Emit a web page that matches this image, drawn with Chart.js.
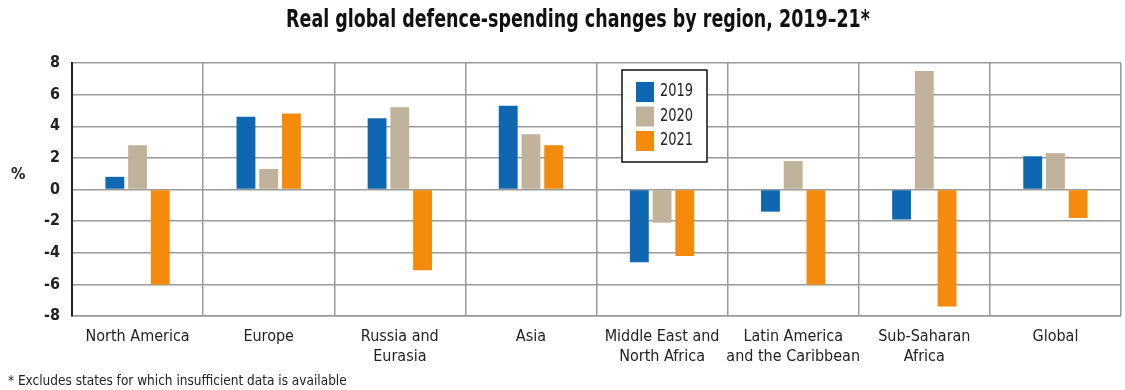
<!DOCTYPE html>
<html>
<head>
<meta charset="utf-8">
<script src="https://cdn.jsdelivr.net/npm/chart.js@4"></script>
<style>
  html, body { margin: 0; padding: 0; background: #fff; }
  #wrap { width: 1125px; height: 390px; }
</style>
</head>
<body>
<div id="wrap"><canvas id="spendChart" width="1125" height="390"></canvas></div>
<script>
// regions along the x axis (multi-line labels as arrays)
const regions = [
    'North America',
    'Europe',
    ['Russia and', 'Eurasia'],
    'Asia',
    ['Middle East and', 'North Africa'],
    ['Latin America', 'and the Caribbean'],
    ['Sub-Saharan', 'Africa'],
    'Global'
];

// real change in defence spending, %
const years = ['2019', '2020', '2021'];
const values2019 = [0.8, 4.6, 4.5, 5.3, -4.6, -1.4, -1.9, 2.1];
const values2020 = [2.8, 1.3, 5.2, 3.5, -2.1, 1.8, 7.5, 2.3];
const values2021 = [-6.0, 4.8, -5.1, 2.8, -4.2, -6.0, -7.4, -1.8];
const yTicks = [-8, -6, -4, -2, 0, 2, 4, 6, 8];

const colors = ['#0f67b1', '#c0b29b', '#f58b0c'];
const FONT = '"DejaVu Sans Condensed", "Liberation Sans Narrow", sans-serif';

// text squeezed horizontally to get a narrow-face look
function narrowText(ctx, text, x, y, sx, align) {
    ctx.save();
    ctx.translate(x, y);
    ctx.scale(sx, 1);
    ctx.textAlign = align;
    ctx.fillText(text, 0, 0);
    ctx.restore();
}

// title, "%" label, boxed legend and footnote
const extras = {
    id: 'extras',
    afterDraw(chart) {
        const ctx = chart.ctx;
        const y = chart.scales.y;
        ctx.save();
        ctx.textBaseline = 'middle';

        // title
        ctx.fillStyle = '#111';
        ctx.font = 'bold 24px ' + FONT;
        narrowText(ctx, 'Real global defence-spending changes by region, 2019\u201321*', 578, 21, 0.81, 'center');

        // axis unit
        ctx.fillStyle = '#222';
        ctx.font = 'bold 16px ' + FONT;
        narrowText(ctx, '%', 11, y.getPixelForValue(0.9), 1, 'left');

        // legend box
        const bx = 622, by = 70, bw = 85, bh = 92;
        ctx.fillStyle = '#fff';
        ctx.fillRect(bx, by, bw, bh);
        ctx.strokeStyle = '#111';
        ctx.lineWidth = 1.5;
        ctx.strokeRect(bx, by, bw, bh);
        ctx.font = '17px ' + FONT;
        chart.data.datasets.forEach((ds, i) => {
            const ry = by + 12 + i * 24.5;
            ctx.fillStyle = ds.backgroundColor;
            ctx.fillRect(bx + 14, ry, 18, 20);
            ctx.fillStyle = '#222';
            narrowText(ctx, ds.label, bx + 38, ry + 10, 0.85, 'left');
        });

        // footnote
        ctx.font = '13.5px ' + FONT;
        ctx.fillStyle = '#222';
        narrowText(ctx, '* Excludes states for which insufficient data is available', 8, 381, 1, 'left');
        ctx.restore();
    }
};

const spendChart = new Chart(document.getElementById('spendChart').getContext('2d'), {
    type: 'bar',
    data: {
        labels: regions,
        datasets: [
            { label: years[0], data: values2019, backgroundColor: colors[0] },
            { label: years[1], data: values2020, backgroundColor: colors[1] },
            { label: years[2], data: values2021, backgroundColor: colors[2] }
        ]
    },
    options: {
        responsive: false,
        animation: false,
        categoryPercentage: 0.52,
        barPercentage: 0.83,
        layout: { padding: { left: 0, right: 4, top: 63, bottom: 0 } },
        plugins: {
            legend: { display: false },
            tooltip: { enabled: false },
            title: { display: false }
        },
        scales: {
            x: {
                offset: true,
                grid: { offset: true, color: '#9a9a9a', lineWidth: 1.5, drawTicks: false },
                border: { color: '#9a9a9a', width: 1.5 },
                ticks: {
                    color: '#222',
                    font: { family: FONT, size: 16, lineHeight: 1.25 },
                    padding: 11,
                    maxRotation: 0,
                    autoSkip: false
                },
                afterFit(scale) { scale.height = 74; }
            },
            y: {
                min: -8,
                max: 8,
                afterBuildTicks(scale) { scale.ticks = yTicks.map(v => ({ value: v })); },
                grid: { color: '#9a9a9a', lineWidth: 1.5, drawTicks: false },
                border: { color: '#222', width: 2 },
                ticks: {
                    color: '#222',
                    font: { family: FONT, size: 16, weight: 'bold' },
                    padding: 12
                },
                afterFit(scale) { scale.width = 72; }
            }
        }
    },
    plugins: [extras]
});
</script>
</body>
</html>
